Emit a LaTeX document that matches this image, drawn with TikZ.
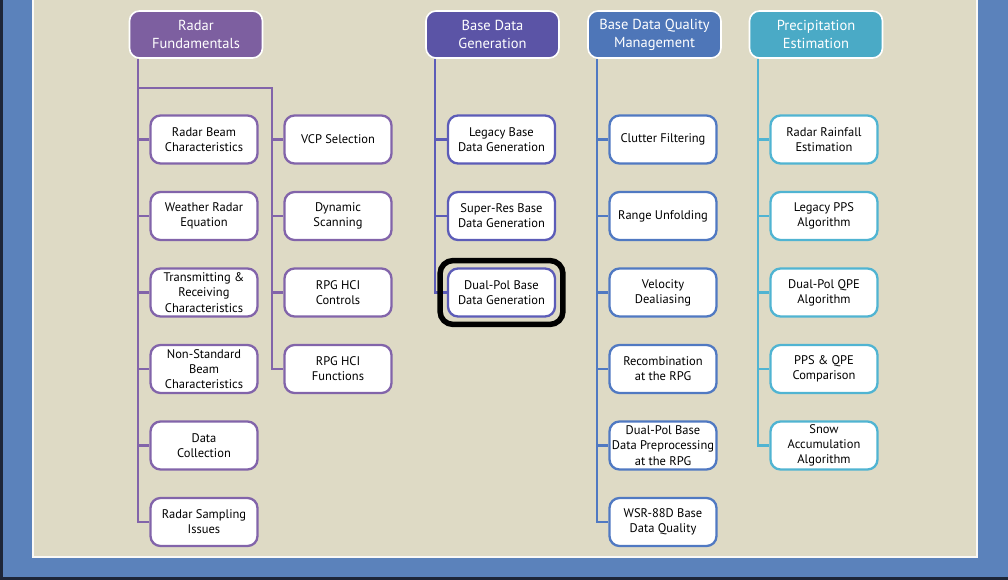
\documentclass[tikz,border=0pt]{standalone}
\usepackage{fontspec}
\setmainfont{PT Sans}
\usetikzlibrary{fit}

\definecolor{bgblue}{HTML}{5B82BB}
\definecolor{bgdark}{HTML}{1E2638}
\definecolor{panel}{HTML}{DEDAC5}
\definecolor{rfc}{HTML}{8264AA}   % radar fundamentals
\definecolor{rfh}{HTML}{7D5FA0}
\definecolor{bdc}{HTML}{5C5CB8}   % base data generation
\definecolor{bdh}{HTML}{5B54A6}
\definecolor{qmc}{HTML}{5079C2}   % quality management
\definecolor{qmh}{HTML}{4E76B8}
\definecolor{pec}{HTML}{50B4D2}   % precipitation
\definecolor{peh}{HTML}{4AAAC6}

\begin{document}
\begin{tikzpicture}[x=1pt,y=-1pt,
  hdr/.style={draw=white,line width=1.6pt,fill=#1,text=white,rounded corners=10pt,
    minimum width=133pt,minimum height=47pt,align=center,inner sep=1pt,
    font=\fontsize{14.5}{18}\selectfont},
  item/.style={draw=#1,line width=2.3pt,fill=white,rounded corners=10pt,
    minimum width=107pt,minimum height=48pt,align=center,inner sep=1pt,
    text=black,font=\fontsize{12.5}{15.2}\selectfont},
  link/.style={draw=#1,line width=2.2pt}]
% page: blue frame, dark edges, beige panel
\useasboundingbox (0,0) rectangle (1008,580);
\fill[bgblue] (0,0) rectangle (1008,580);
\fill[bgdark] (0,0) rectangle (2.5,580);
\fill[bgdark] (0,577) rectangle (1008,580);
\draw[white!85!panel,line width=1.5pt,fill=panel] (33,-2) rectangle (977,557);

% --- headers ---
\node[hdr=rfh] (rf)  at (196,34.5)   {Radar\\Fundamentals};
\node[hdr=bdh] (bdg) at (492.5,34.5) {Base Data\\Generation};
\node[hdr=qmh] (bdq) at (654.5,34.5) {Base Data Quality\\Management};
\node[hdr=peh] (pe)  at (816,34.5)   {Precipitation\\Estimation};

% --- child boxes, rows 76.5 apart ---
\foreach \t [count=\i] in {{Radar Beam\\Characteristics},{Weather Radar\\Equation},
    {Transmitting \&\\Receiving\\Characteristics},{Non-Standard\\Beam\\Characteristics},
    {Data\\Collection},{Radar Sampling\\Issues}}
  \node[item=rfc] (rf\i) at (204,139.5+76.5*\i-76.5) {\t};
\foreach \t [count=\i] in {{VCP Selection},{Dynamic\\Scanning},{RPG HCI\\Controls},{RPG HCI\\Functions}}
  \node[item=rfc] (hci\i) at (338,139.5+76.5*\i-76.5) {\t};
\foreach \t [count=\i] in {{Legacy Base\\Data Generation},{Super-Res Base\\Data Generation},
    {Dual-Pol Base\\Data Generation}}
  \node[item=bdc] (bdg\i) at (501.5,139.5+76.5*\i-76.5) {\t};
\foreach \t [count=\i] in {{Clutter Filtering},{Range Unfolding},{Velocity\\Dealiasing},
    {Recombination\\at the RPG},{Dual-Pol Base\\Data Preprocessing\\at the RPG},
    {WSR-88D Base\\Data Quality}}
  \node[item=qmc] (bdq\i) at (663,139.5+76.5*\i-76.5) {\t};
\foreach \t [count=\i] in {{Radar Rainfall\\Estimation},{Legacy PPS\\Algorithm},
    {Dual-Pol QPE\\Algorithm},{PPS \& QPE\\Comparison},{Snow\\Accumulation\\Algorithm}}
  \node[item=pec] (pe\i) at (824,139.5+76.5*\i-76.5) {\t};

% --- trunks and branches ---
\coordinate (rft) at ([xshift=9pt]rf.south west);
\coordinate (rfb) at (272,88);
\draw[link=rfc] (rft) |- (rf6.west);
\foreach \i in {1,...,5} \draw[link=rfc] (rft |- rf\i.west) -- (rf\i.west);
\draw[link=rfc] (rft |- rfb) -- (rfb) |- (hci4.west);
\foreach \i in {1,2,3} \draw[link=rfc] (rfb |- hci\i.west) -- (hci\i.west);

\coordinate (bdgt) at ([xshift=10pt]bdg.south west);
\draw[link=bdc] (bdgt) |- (bdg3.west);
\foreach \i in {1,2} \draw[link=bdc] (bdgt |- bdg\i.west) -- (bdg\i.west);

\coordinate (bdqt) at ([xshift=10pt]bdq.south west);
\draw[link=qmc] (bdqt) |- (bdq6.west);
\foreach \i in {1,...,5} \draw[link=qmc] (bdqt |- bdq\i.west) -- (bdq\i.west);

\coordinate (pet) at ([xshift=9pt]pe.south west);
\draw[link=pec] (pet) |- (pe5.west);
\foreach \i in {1,...,4} \draw[link=pec] (pet |- pe\i.west) -- (pe\i.west);

% highlight round the current topic
\node[fit=(bdg3),draw=black,line width=5.5pt,rounded corners=13pt,inner sep=6.8pt] (hl) {};
\end{tikzpicture}
\end{document}
